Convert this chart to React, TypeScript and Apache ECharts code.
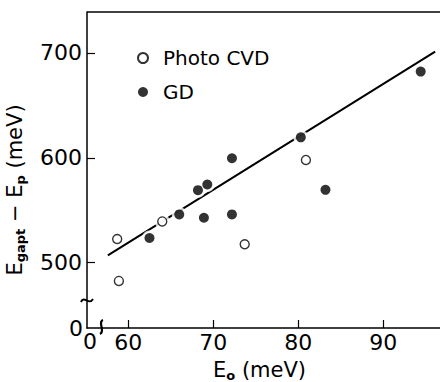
import React, { useEffect, useRef } from "react";
import * as echarts from "echarts";

const photoCVD: [number, number][] = [
  [58.7, 522.6],
  [58.9, 482.7],
  [64.0, 539.4],
  [73.7, 517.6],
  [80.9, 598.0],
];
const gd: [number, number][] = [
  [62.5, 523.6],
  [66.0, 546.1],
  [68.2, 569.2],
  [69.3, 574.6],
  [68.9, 542.9],
  [72.2, 546.1],
  [72.2, 599.6],
  [80.3, 619.5],
  [83.2, 569.5],
  [94.4, 682.2],
];
const fitLine: [number, number][] = [
  [57.6, 507.0],
  [96.1, 701.2],
];
const xTicks = [60, 70, 80, 90];
const yTicks = [500, 600, 700];

const FONT = "DejaVu Sans";

export default function App() {
  const ref = useRef<HTMLDivElement>(null);
  useEffect(() => {
    if (!ref.current) return;
    const chart = echarts.init(ref.current, undefined, { renderer: "svg" });
    const axisCommon = {
      axisLine: { show: true, lineStyle: { color: "#000", width: 1.5 } },
      axisTick: { show: true, inside: true, length: 8, lineStyle: { color: "#000", width: 1.2 } },
      splitLine: { show: false },
    };
    const rich = {
      a: { fontFamily: FONT, fontSize: 21, color: "#000", lineHeight: 24 },
      s: { fontFamily: FONT, fontSize: 13, fontWeight: "bold", color: "#000", lineHeight: 16, verticalAlign: "bottom" },
    };
    chart.setOption({
      animation: false,
      backgroundColor: "#fff",
      grid: { left: 87, top: 12, right: 0, bottom: 54, containLabel: false, outerBoundsMode: "none" },
      legend: {
        orient: "vertical",
        left: 132,
        top: 43,
        itemWidth: 10,
        itemHeight: 10,
        itemGap: 14,
        icon: "circle",
        data: ["Photo CVD", "GD"],
        textStyle: { fontFamily: FONT, fontSize: 20, color: "#000", padding: [0, 0, 0, 10] },
      },
      xAxis: {
        type: "value",
        min: 55.15,
        max: 96.67,
        ...axisCommon,
        axisTick: { ...axisCommon.axisTick, customValues: xTicks },
        axisLabel: {
          customValues: xTicks,
          fontFamily: FONT,
          fontSize: 22,
          color: "#000",
          margin: 3,
        },
        name: "{a|E}{s|o}{a| (meV)}",
        nameLocation: "middle",
        nameGap: 30,
        nameTextStyle: { padding: [0, 8, 0, 0], rich },
      },
      yAxis: {
        type: "value",
        min: 437.8,
        max: 739,
        ...axisCommon,
        axisTick: { ...axisCommon.axisTick, customValues: yTicks },
        axisLabel: {
          customValues: yTicks,
          fontFamily: FONT,
          fontSize: 22,
          color: "#000",
          margin: 5,
        },
        name: "{a|E}{s|gapt}{a| − E}{s|p}{a| (meV)}",
        nameLocation: "middle",
        nameGap: 60,
        nameRotate: 90,
        nameTextStyle: { padding: [0, 40, 0, 0], rich },
      },
      series: [
        {
          type: "line",
          data: fitLine,
          symbol: "none",
          lineStyle: { color: "#000", width: 2 },
          z: 1,
          silent: true,
        },
        {
          name: "halo",
          type: "scatter",
          data: [...photoCVD, ...gd],
          symbol: "circle",
          symbolSize: 15,
          itemStyle: { color: "#fff" },
          z: 2,
          silent: true,
        },
        {
          name: "Photo CVD",
          type: "scatter",
          data: photoCVD,
          symbol: "circle",
          symbolSize: 9,
          itemStyle: { color: "#fff", borderColor: "#000", borderWidth: 1.4 },
          z: 3,
        },
        {
          name: "GD",
          type: "scatter",
          data: gd,
          symbol: "circle",
          symbolSize: 10,
          itemStyle: { color: "#000" },
          z: 3,
        },
      ],
      graphic: [
        { type: "line", shape: { x1: 87, y1: 12, x2: 440, y2: 12 }, style: { stroke: "#000", lineWidth: 1.5 } },
        { type: "text", x: 76, y: 328, style: { text: "0", font: `22px "${FONT}"`, fill: "#000", align: "center", verticalAlign: "middle" } },
        { type: "text", x: 90, y: 341, style: { text: "0", font: `22px "${FONT}"`, fill: "#000", align: "center", verticalAlign: "middle" } },
        {
          type: "bezierCurve",
          shape: { x1: 81, y1: 302, x2: 93, y2: 299, cpx1: 84, cpy1: 295, cpx2: 89, cpy2: 306 },
          style: { stroke: "#000", lineWidth: 2, fill: "none" },
        },
        {
          type: "bezierCurve",
          shape: { x1: 103, y1: 320, x2: 100, y2: 334, cpx1: 97, cpy1: 322, cpx2: 106, cpy2: 331 },
          style: { stroke: "#000", lineWidth: 2.2, fill: "none" },
        },
      ],
    });
    return () => chart.dispose();
  }, []);
  return (
    <div
      ref={ref}
      style={{ position: "fixed", left: 0, top: 0, width: 440, height: 382, background: "#fff" }}
    />
  );
}
